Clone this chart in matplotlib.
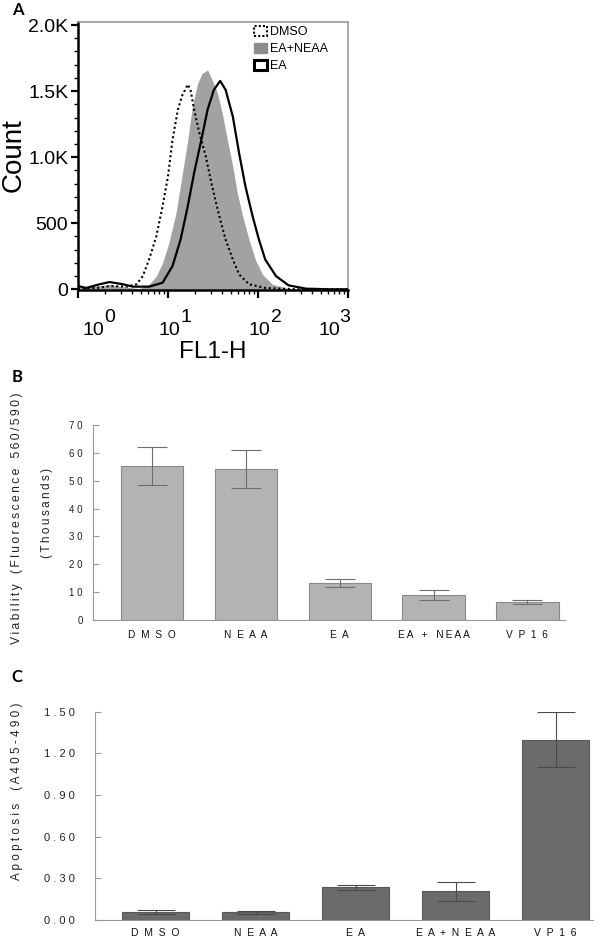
import numpy as np
import matplotlib
matplotlib.use('Agg')
import matplotlib.pyplot as plt
from matplotlib.patches import Patch
from matplotlib.ticker import FixedLocator, NullFormatter, LogLocator

plt.rcParams['font.family'] = ['Liberation Sans', 'DejaVu Sans']

# Panel A: flow cytometry histograms (FL1-H in decades, counts)
dmso_log = [0.0, 0.24, 0.35, 0.54, 0.65, 0.72, 0.79, 0.87, 0.94, 1.0, 1.05, 1.11, 1.16, 1.22,
            1.25, 1.29, 1.35, 1.42, 1.49, 1.57, 1.64, 1.72, 1.79, 1.90, 2.08, 2.45, 3.0]
dmso_count = [5, 12, 25, 20, 38, 100, 226, 400, 630, 855, 1130, 1360, 1470, 1550,
              1510, 1360, 1180, 1005, 780, 553, 377, 226, 113, 38, 10, 0, 0]

ea_neaa_log = [0.0, 0.35, 0.55, 0.68, 0.79, 0.87, 0.94, 1.01, 1.09, 1.16, 1.22, 1.27, 1.33, 1.38,
               1.44, 1.49, 1.55, 1.61, 1.66, 1.72, 1.77, 1.83, 1.90, 1.97, 2.05, 2.16, 2.31, 2.45, 3.0]
ea_neaa_count = [10, 35, 15, 5, 38, 100, 200, 352, 580, 880, 1130, 1384, 1560, 1635,
                 1660, 1585, 1485, 1308, 1130, 930, 730, 553, 377, 226, 113, 38, 10, 0, 0]

ea_log = [0.0, 0.09, 0.24, 0.35, 0.50, 0.61, 0.79, 0.94, 1.05, 1.14, 1.22, 1.29, 1.37, 1.44,
          1.51, 1.58, 1.64, 1.72, 1.79, 1.86, 1.94, 2.01, 2.08, 2.20, 2.34, 2.53, 2.8, 3.0]
ea_count = [25, 10, 38, 55, 38, 20, 20, 50, 176, 377, 630, 880, 1130, 1360,
            1510, 1577, 1510, 1308, 1030, 780, 553, 377, 226, 100, 30, 5, 0, 0]

count_ticks = [0, 500, 1000, 1500, 2000]
count_labels = ['0', '500', '1.0K', '1.5K', '2.0K']
decades = [0, 1, 2, 3]

# Panel B: viability
groups_b = ['DMSO', 'NEAA', 'EA', 'EA + NEAA', 'VP16']
viability = [55.3, 54.3, 13.2, 8.9, 6.6]
viability_lo = [48.3, 47.4, 11.7, 7.3, 5.9]
viability_hi = [62.2, 61.2, 14.8, 10.6, 7.2]
viability_ticks = [0, 10, 20, 30, 40, 50, 60, 70]

# Panel C: apoptosis
groups_c = ['DMSO', 'NEAA', 'EA', 'EA+NEAA', 'VP16']
apoptosis = [0.055, 0.053, 0.233, 0.204, 1.298]
apoptosis_lo = [0.041, 0.041, 0.211, 0.137, 1.10]
apoptosis_hi = [0.072, 0.065, 0.252, 0.271, 1.50]
apoptosis_ticks = [0.0, 0.3, 0.6, 0.9, 1.2, 1.5]


def spaced(text, sep=' '):
    # letter-spaced text like the original figure
    return sep.join(text)


fig = plt.figure(figsize=(6, 9.39), dpi=100)

# ---------------- A ----------------
ax = fig.add_axes([0.13, 0.6912, 0.45, 0.2854])
x_dmso = [10 ** d for d in dmso_log]
x_en = [10 ** d for d in ea_neaa_log]
x_ea = [10 ** d for d in ea_log]
ax.fill_between(x_en, ea_neaa_count, color='#a2a2a2', lw=0, zorder=1)
ax.plot(x_ea, ea_count, color='black', lw=1.6, zorder=3)
ax.plot(x_dmso, dmso_count, color='black', lw=1.5, ls=(0, (1, 1.3)), zorder=4)
ax.set_xscale('log')
ax.set_xlim(1, 1000)
ax.set_ylim(-5, 2023)

ax.yaxis.set_major_locator(FixedLocator(count_ticks))
ax.set_yticklabels(count_labels, fontsize=14)
ax.yaxis.set_minor_locator(FixedLocator(np.arange(0, 2001, 100)))
ax.tick_params(axis='y', which='major', length=5, width=1.6, pad=2)
ax.tick_params(axis='y', which='minor', length=3, width=1.0)
ax.xaxis.set_major_locator(FixedLocator([10 ** d for d in decades]))
ax.xaxis.set_minor_locator(LogLocator(base=10, subs=np.arange(2, 10)))
ax.xaxis.set_major_formatter(NullFormatter())
ax.xaxis.set_minor_formatter(NullFormatter())
ax.tick_params(axis='x', which='major', length=6, width=1.6)
ax.tick_params(axis='x', which='minor', length=3, width=1.0)
for s in ['left', 'bottom']:
    ax.spines[s].set_linewidth(1.8)
    ax.spines[s].set_color('black')
for s in ['top', 'right']:
    ax.spines[s].set_linewidth(1.2)
    ax.spines[s].set_color('#999999')

# decade labels as in the original export (offset base and exponent)
label_offsets = [3.6, -6.5, -6.5, -21.6]
for d, off in zip(decades, label_offsets):
    ax.annotate('10', xy=(10 ** d, 0), xycoords=('data', 'axes fraction'),
                xytext=(off, -29), textcoords='offset points',
                ha='left', va='center', fontsize=14)
    ax.annotate(str(d), xy=(10 ** d, 0), xycoords=('data', 'axes fraction'),
                xytext=(off + 15.5, -20), textcoords='offset points',
                ha='left', va='center', fontsize=14)

ax.set_xlabel('FL1-H', fontsize=17.5)
ax.xaxis.set_label_coords(0.5, -0.19)
fig.text(14 / 600, 1 - 155 / 939, 'Count', rotation=90, ha='center', va='center', fontsize=20)

handles = [Patch(facecolor='white', edgecolor='black', linestyle=(0, (1, 1)), lw=1.5),
           Patch(facecolor='#8c8c8c', edgecolor='#8c8c8c'),
           Patch(facecolor='white', edgecolor='black', lw=2.2)]
ax.legend(handles, ['DMSO', 'EA+NEAA', 'EA'], loc='upper left',
          bbox_to_anchor=(0.652, 0.985), frameon=False, fontsize=9,
          handlelength=1.0, handleheight=0.8, handletextpad=0.3,
          labelspacing=0.4, borderpad=0, borderaxespad=0)

# ---------------- B ----------------
axb = fig.add_axes([0.1545, 0.3397, 0.787, 0.2077])
xb = np.arange(len(groups_b))
axb.bar(xb, viability, width=0.666, color='#b3b3b3', edgecolor='#8a8a8a', lw=0.8, zorder=2)
err_b = [np.array(viability) - np.array(viability_lo), np.array(viability_hi) - np.array(viability)]
axb.errorbar(xb, viability, yerr=err_b, fmt='none', ecolor='#6e6e6e',
             elinewidth=0.8, capsize=10.8, capthick=0.8, zorder=3)
axb.set_xlim(-0.635, 4.40)
axb.set_ylim(0, 70)
axb.set_yticks(viability_ticks)
axb.set_yticklabels([spaced(str(v)) for v in viability_ticks], fontsize=7, color='#222222')
axb.set_xticks(xb)
axb.set_xticklabels(['D  M  S  O', 'N  E  A  A', 'E  A', 'E\u2009A   +   N\u2009E\u2009A\u2009A', 'V  P  1  6'],
                    fontsize=7.3, color='#111111')
axb.tick_params(axis='x', length=0, pad=7)
axb.tick_params(axis='y', direction='in', length=4, width=0.8, color='#999999', pad=7)
for s in ['top', 'right']:
    axb.spines[s].set_visible(False)
for s in ['left', 'bottom']:
    axb.spines[s].set_color('#999999')
    axb.spines[s].set_linewidth(0.8)

fig.text(17 / 600, 1 - 518 / 939, spaced('Viability', '\u2009') + '   ' +
         spaced('(Fluorescence', '\u2009') + '   ' + spaced('560/590)', '\u2009'),
         rotation=90, ha='center', va='center', fontsize=8.7, color='#222222')
fig.text(47 / 600, 1 - 513 / 939, spaced('(Thousands)', '\u2009'),
         rotation=90, ha='center', va='center', fontsize=8.5, color='#222222')

# ---------------- C ----------------
axc = fig.add_axes([0.1575, 0.0206, 0.831, 0.2212])
xc = np.arange(len(groups_c))
axc.bar(xc, apoptosis, width=0.67, color='#6b6b6b', edgecolor='#585858', lw=0.8, zorder=2)
err_c = [np.array(apoptosis) - np.array(apoptosis_lo), np.array(apoptosis_hi) - np.array(apoptosis)]
axc.errorbar(xc, apoptosis, yerr=err_c, fmt='none', ecolor='#4a4a4a',
             elinewidth=0.8, capsize=13.5, capthick=0.8, zorder=3)
axc.set_xlim(-0.61, 4.375)
axc.set_ylim(0, 1.5)
axc.set_yticks(apoptosis_ticks)
axc.set_yticklabels([spaced('%.2f' % v) for v in apoptosis_ticks], fontsize=8, color='#222222')
axc.set_xticks(xc)
axc.set_xticklabels([spaced(g, '  ') for g in groups_c], fontsize=7.5, color='#111111')
axc.tick_params(axis='x', length=0, pad=6)
axc.tick_params(axis='y', direction='in', length=4, width=0.8, color='#999999', pad=14)
for s in ['top', 'right']:
    axc.spines[s].set_visible(False)
for s in ['left', 'bottom']:
    axc.spines[s].set_color('#999999')
    axc.spines[s].set_linewidth(0.8)

fig.text(17 / 600, 1 - 791 / 939, 'A p o p t o s i s    ( A 4 0 5 - 4 9 0 )',
         rotation=90, ha='center', va='center', fontsize=8.5, color='#222222')

# panel letters
for letter, px, py in [('A', 18, 10), ('B', 17, 377), ('C', 17, 677)]:
    fig.text(px / 600, 1 - py / 939, letter, fontsize=12, fontweight='bold',
             family=['Lato', 'DejaVu Sans'], ha='center', va='center')

fig.savefig('out.png', dpi=100)
